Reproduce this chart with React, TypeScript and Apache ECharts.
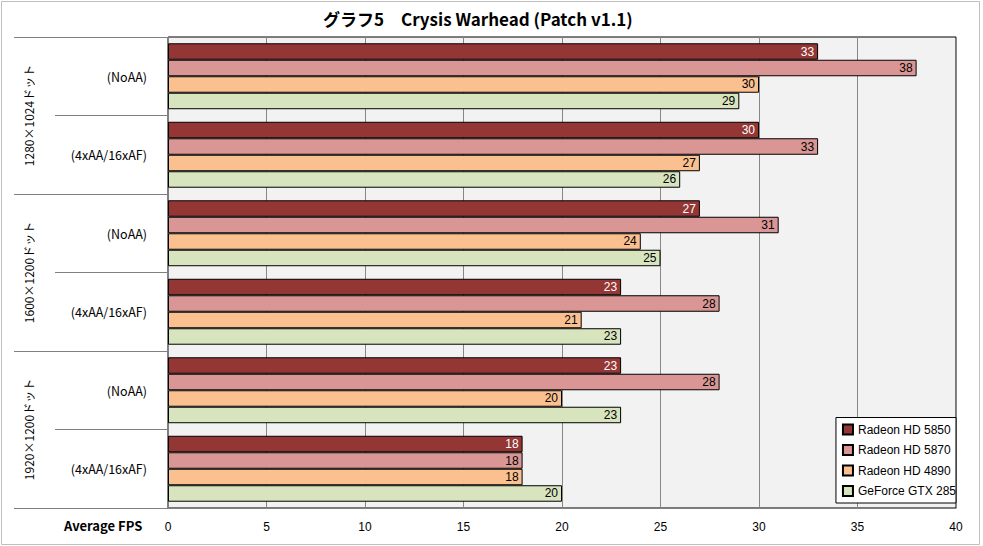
import React, { useEffect, useRef } from "react";
import * as echarts from "echarts";

const settings = ["(NoAA)", "(4xAA/16xAF)", "(NoAA)", "(4xAA/16xAF)", "(NoAA)", "(4xAA/16xAF)"];
const resolutions = ["1280×1024ドット", "1600×1200ドット", "1920×1200ドット"];
const seriesNames = ["Radeon HD 5850", "Radeon HD 5870", "Radeon HD 4890", "GeForce GTX 285"];
const hd5850 = [33, 30, 27, 23, 23, 18];
const hd5870 = [38, 33, 31, 28, 28, 18];
const hd4890 = [30, 27, 24, 21, 20, 18];
const gtx285 = [29, 26, 25, 23, 23, 20];
const colors = ["#943634", "#d99694", "#fac090", "#d7e4bd"];
const labelColors = ["#ffffff", "#000000", "#000000", "#000000"];

const CJK = '"Noto Sans CJK JP", "Liberation Sans", sans-serif';
const LAT = '"Liberation Sans", "DejaVu Sans", sans-serif';

export default function App() {
  const ref = useRef<HTMLDivElement>(null);
  useEffect(() => {
    document.body.style.margin = "0";
    const chart = echarts.init(ref.current!, null, { renderer: "svg" });
    const values = [hd5850, hd5870, hd4890, gtx285];
    chart.setOption({
      animation: false,
      backgroundColor: "#ffffff",
      title: {
        text: "グラフ5　Crysis Warhead (Patch v1.1)",
        left: 318,
        top: 5,
        textStyle: { fontFamily: CJK, fontSize: 17, fontWeight: "bold", color: "#000" },
      },
      grid: {
        left: 168,
        right: 27,
        top: 37,
        bottom: 38,
        show: true,
        backgroundColor: "#f2f2f2",
        borderColor: "#000",
        borderWidth: 1,
      },
      legend: {
        orient: "vertical",
        right: 27,
        bottom: 43,
        backgroundColor: "#ffffff",
        borderColor: "#000",
        borderWidth: 1,
        padding: [6, 0, 6, 6],
        itemWidth: 10,
        itemHeight: 10,
        itemGap: 8.5,
        icon: "rect",
        textStyle: { fontFamily: LAT, fontSize: 12, color: "#000" },
        data: seriesNames,
      },
      xAxis: {
        type: "value",
        min: 0,
        max: 40,
        interval: 5,
        axisLine: { show: true, lineStyle: { color: "#808080" } },
        axisTick: { show: false },
        axisLabel: { margin: 13, fontFamily: LAT, fontSize: 12, color: "#000" },
        splitLine: { show: true, lineStyle: { color: "#878787" } },
      },
      yAxis: [
        {
          type: "category",
          data: settings,
          inverse: true,
          axisLine: { show: true, lineStyle: { color: "#808080" } },
          axisTick: { show: true, interval: 0, length: 113, lineStyle: { color: "#808080" } },
          axisLabel: {
            margin: 21,
            fontFamily: CJK,
            fontSize: 12.5,
            color: "#000",
            padding: [0, 0, 5, 0],
          },
        },
        {
          type: "category",
          data: resolutions,
          inverse: true,
          position: "left",
          axisLine: { show: false },
          axisTick: { show: true, interval: 0, length: 154, lineStyle: { color: "#808080" } },
          axisLabel: { margin: 134, rotate: 90, fontFamily: CJK, fontSize: 12, color: "#000" },
        },
      ],
      graphic: [
        {
          type: "rect",
          shape: { x: 1.5, y: 1.5, width: 978, height: 543 },
          style: { fill: "none", stroke: "#bfbfbf", lineWidth: 1 },
          silent: true,
        },
        {
          type: "text",
          left: 64,
          top: 519,
          style: { text: "Average FPS", fontFamily: CJK, fontSize: 13, fontWeight: "bold", fill: "#000" },
        },
      ],
      series: seriesNames.map((name, i) => ({
        name,
        type: "bar",
        yAxisIndex: 0,
        data: values[i],
        barGap: "0%",
        barCategoryGap: "16%",
        itemStyle: { color: colors[i], borderColor: "#000", borderWidth: 1 },
        label: {
          show: true,
          position: "insideRight",
          distance: 4,
          fontFamily: LAT,
          fontSize: 12,
          color: labelColors[i],
        },
      })),
    });
    return () => chart.dispose();
  }, []);
  return <div ref={ref} style={{ width: 983, height: 546 }} />;
}
